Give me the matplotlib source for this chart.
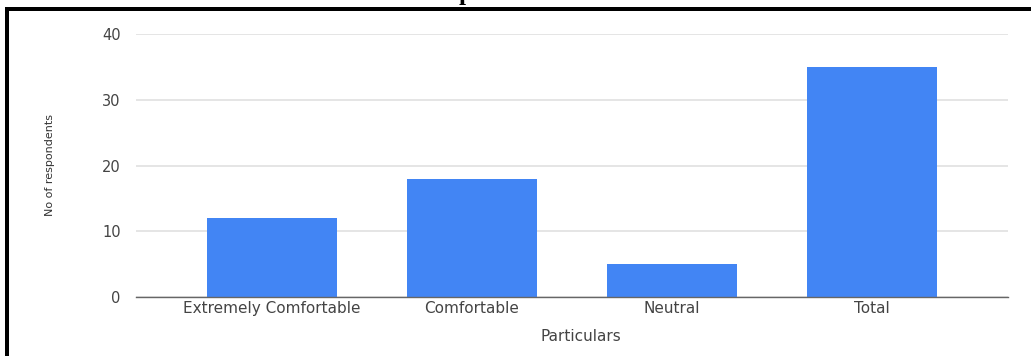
import matplotlib
matplotlib.use("Agg")
import matplotlib.pyplot as plt
from matplotlib.lines import Line2D
import numpy as np

categories = ['Extremely Comfortable', 'Comfortable', 'Neutral', 'Total']
respondents = [12, 18, 5, 35]
yticks = [0, 10, 20, 30, 40]

W, H = 1031, 356
fig = plt.figure(figsize=(W / 100, H / 100), dpi=100)
ax = fig.add_axes([136 / W, 1 - 297 / H, (1008 - 136) / W, (297 - 34) / H])

x = np.arange(len(categories))
ax.bar(x, respondents, width=0.65, color='#4285f4', zorder=3)

ax.set_xlim(-0.68, len(categories) - 1 + 0.68)
ax.set_ylim(0, 40)
ax.set_yticks(yticks)
ax.set_xticks(x)
ax.set_xticklabels(categories)

for s in ['top', 'right', 'left']:
    ax.spines[s].set_visible(False)
ax.spines['bottom'].set_color('#666666')
ax.spines['bottom'].set_linewidth(1.0)
ax.spines['bottom'].set_zorder(4)

ax.grid(axis='y', color='#e3e3e3', linewidth=1.3, zorder=0)
ax.tick_params(axis='both', length=0, labelcolor='#444444')
ax.tick_params(axis='x', labelsize=11, pad=3)
ax.tick_params(axis='y', labelsize=10.5, pad=11)

ax.set_xlabel('Particulars', fontsize=11, color='#444444', labelpad=9)
ax.xaxis.label.set_x(0.51)
ax.set_ylabel('No of respondents', fontsize=8, color='#333333', labelpad=34)

# page frame around the chart
lw = 4 * 72 / 100
fig.add_artist(Line2D([7 / W, 7 / W], [0, 1 - 9 / H], color='black',
                      linewidth=lw, transform=fig.transFigure))
fig.add_artist(Line2D([7 / W, 1], [1 - 9 / H, 1 - 9 / H], color='black',
                      linewidth=lw, transform=fig.transFigure))

# document caption, mostly above the page edge
fig.text(248 / W, 1.0, 'Comfort level of respondents', family='Liberation Serif',
         fontweight='bold', fontsize=18, ha='left', va='baseline')

fig.savefig('out.png', dpi=100)
